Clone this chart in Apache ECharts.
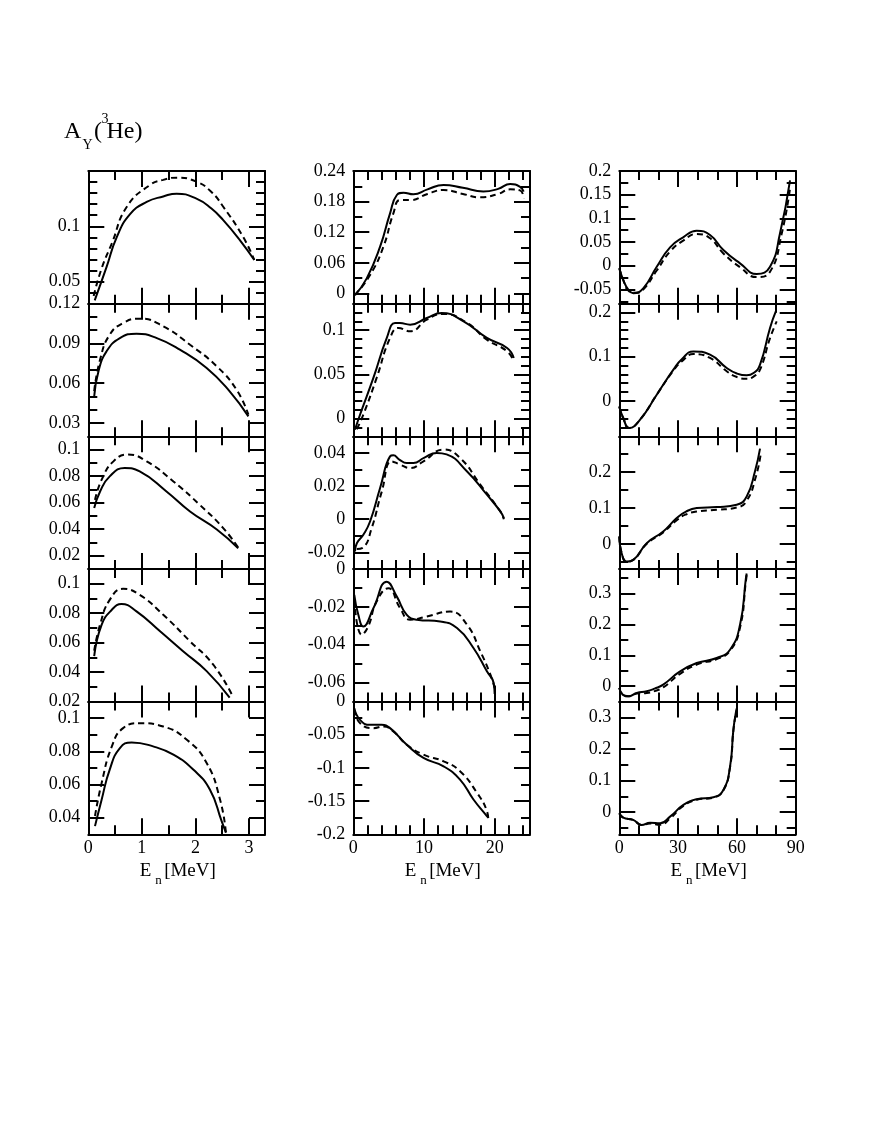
<!DOCTYPE html>
<html>
<head>
<meta charset="utf-8">
<script src="https://cdn.jsdelivr.net/npm/echarts@6/dist/echarts.min.js"></script>
<style>
  html, body { margin: 0; padding: 0; background: #fff; }
  #chart { width: 884px; height: 1144px; }
</style>
</head>
<body>
<div id="chart"></div>
<script>
// x axis (E_n in MeV) per column
const col1Ticks = [0, 1, 2, 3]
const col2Ticks = [0, 10, 20]
const col3Ticks = [0, 30, 60, 90]

// y tick labels per panel (row-col)
const yTicks11 = [0.05, 0.1]
const yTicks12 = [0.03, 0.06, 0.09, 0.12]
const yTicks13 = [0.02, 0.04, 0.06, 0.08, 0.1]
const yTicks14 = [0.02, 0.04, 0.06, 0.08, 0.1]
const yTicks15 = [0.04, 0.06, 0.08, 0.1]
const yTicks21 = [0, 0.06, 0.12, 0.18, 0.24]
const yTicks22 = [0, 0.05, 0.1]
const yTicks23 = [-0.02, 0, 0.02, 0.04]
const yTicks24 = [-0.06, -0.04, -0.02, 0]
const yTicks25 = [-0.2, -0.15, -0.1, -0.05, 0]
const yTicks31 = [-0.05, 0, 0.05, 0.1, 0.15, 0.2]
const yTicks32 = [0, 0.1, 0.2]
const yTicks33 = [0, 0.1, 0.2]
const yTicks34 = [0, 0.1, 0.2, 0.3]
const yTicks35 = [0, 0.1, 0.2, 0.3]

// curves: [E, A_y], solid and dashed
const s11 = [[0.12, 0.033], [0.34, 0.063], [0.53, 0.090], [0.78, 0.111], [1.09, 0.122], [1.4, 0.127], [1.65, 0.1295], [2.02, 0.125], [2.3, 0.116], [2.52, 0.1055], [2.83, 0.0875], [3.1, 0.0695]]
const d11 = [[0.1, 0.037], [0.25, 0.062], [0.44, 0.0846], [0.72, 0.1177], [1.15, 0.1373], [1.4, 0.142], [1.65, 0.144], [2.02, 0.1403], [2.3, 0.131], [2.52, 0.1177], [2.89, 0.0905], [3.1, 0.0695]]
const s12 = [[0.11, 0.050], [0.19, 0.069], [0.34, 0.084], [0.59, 0.094], [0.9, 0.0974], [1.28, 0.094], [1.71, 0.0853], [2.21, 0.0715], [2.64, 0.0539], [2.99, 0.035]]
const d12 = [[0.11, 0.054], [0.22, 0.0778], [0.40, 0.0966], [0.65, 0.1054], [0.96, 0.1087], [1.40, 0.1029], [1.90, 0.089], [2.40, 0.0727], [2.77, 0.055], [2.99, 0.0363]]
const s13 = [[0.11, 0.0559], [0.22, 0.0684], [0.40, 0.0798], [0.68, 0.0861], [0.96, 0.0835], [1.46, 0.0684], [1.90, 0.0533], [2.40, 0.0397], [2.80, 0.0256]]
const d13 = [[0.125, 0.0621], [0.25, 0.0773], [0.47, 0.0911], [0.74, 0.0962], [1.09, 0.0911], [1.59, 0.076], [2.08, 0.0584], [2.52, 0.0408], [2.83, 0.0244]]
const s14 = [[0.11, 0.0508], [0.25, 0.0722], [0.44, 0.0823], [0.62, 0.0862], [0.90, 0.0812], [1.34, 0.0677], [1.77, 0.0542], [2.21, 0.0407], [2.64, 0.0227]]
const d14 = [[0.11, 0.0545], [0.22, 0.0722], [0.40, 0.089], [0.65, 0.0965], [0.96, 0.0924], [1.40, 0.0789], [1.90, 0.0609], [2.33, 0.0452], [2.68, 0.0249]]
const s15 = [[0.125, 0.0349], [0.25, 0.051], [0.40, 0.069], [0.59, 0.082], [0.81, 0.0854], [1.21, 0.083], [1.59, 0.078], [1.96, 0.069], [2.27, 0.057], [2.49, 0.0379], [2.57, 0.031]]
const d15 = [[0.125, 0.041], [0.25, 0.061], [0.44, 0.083], [0.65, 0.094], [0.96, 0.097], [1.40, 0.095], [1.84, 0.087], [2.21, 0.073], [2.46, 0.051], [2.57, 0.031]]

const s21 = [[0.24, -0.003], [1.9, 0.0296], [3.79, 0.0916], [5.2, 0.157], [6.16, 0.193], [7.1, 0.1976], [8.5, 0.1943], [10.5, 0.204], [12.77, 0.2126], [15.5, 0.207], [18.4, 0.2], [20.5, 0.205], [22.2, 0.2145], [23.6, 0.209], [24.1, 0.1995]]
const d21 = [[0.24, -0.003], [2.37, 0.036], [4.26, 0.0916], [5.67, 0.157], [6.62, 0.183], [8.04, 0.183], [10.5, 0.195], [12.77, 0.2027], [15.5, 0.195], [17.97, 0.1884], [20.5, 0.195], [22.2, 0.204], [23.6, 0.202], [24.1, 0.1865]]
const s22 = [[0.24, -0.0125], [0.95, 0.0044], [2.84, 0.046], [4.74, 0.0912], [5.9, 0.108], [6.6, 0.108], [8.04, 0.1062], [10.4, 0.1138], [12.5, 0.1195], [15.6, 0.11], [18.9, 0.0912], [21.76, 0.0799], [22.7, 0.0686]]
const d22 = [[0.5, -0.012], [1.42, 0.0044], [3.3, 0.046], [5.2, 0.0912], [6.4, 0.1025], [8.04, 0.0987], [10.4, 0.1119], [12.77, 0.1183], [16.1, 0.1082], [18.9, 0.0893], [21.76, 0.0761], [22.7, 0.0647]]
const s23 = [[0.24, -0.0195], [0.5, -0.0145], [1.42, -0.0094], [2.37, -0.0014], [3.79, 0.0188], [5.2, 0.0379], [5.67, 0.0385], [6.5, 0.036], [7.57, 0.0339], [8.5, 0.0339], [10, 0.037], [11.8, 0.04], [13.2, 0.0391], [16.1, 0.0288], [18.9, 0.0148], [20.8, 0.0047], [21.3, 0.0007]]
const d23 = [[0.5, -0.018], [1.42, -0.017], [2.6, -0.0054], [4.03, 0.0167], [5.44, 0.0349], [6.62, 0.0329], [8.04, 0.0309], [9.93, 0.0349], [12.77, 0.042], [15.1, 0.037], [17.97, 0.0208], [20.8, 0.0047], [21.3, 0]]
const s24 = [[0.14, -0.0137], [0.71, -0.0242], [1.42, -0.0304], [2.84, -0.0207], [4.74, -0.0067], [6.16, -0.0146], [7.57, -0.0242], [9.0, -0.0268], [12.3, -0.0277], [14.67, -0.0312], [17.0, -0.0417], [18.9, -0.054], [19.86, -0.0602], [20.0, -0.066]]
const d24 = [[0.14, -0.016], [1.19, -0.0347], [2.1, -0.0304], [3.3, -0.0172], [4.96, -0.0102], [6.62, -0.0207], [8.04, -0.0268], [10.4, -0.0251], [13.7, -0.0225], [16.1, -0.0295], [17.97, -0.0435], [19.4, -0.0558], [20.0, -0.063]]
const s25 = [[0.14, -0.0099], [0.95, -0.0275], [2.37, -0.035], [4.0, -0.035], [5.2, -0.04], [7.57, -0.065], [9.93, -0.085], [12.77, -0.0976], [15.1, -0.1176], [17.0, -0.1476], [18.7, -0.17], [19.1, -0.175]]
const d25 = [[0.14, -0.012], [0.95, -0.0325], [2.84, -0.04], [4.3, -0.0375], [5.67, -0.045], [7.57, -0.065], [9.93, -0.08], [12.77, -0.09], [15.1, -0.105], [17.5, -0.1376], [18.9, -0.165], [19.1, -0.178]]

const s31 = [[0, -0.0055], [2, -0.03], [4.5, -0.05], [7.1, -0.058], [12.2, -0.0477], [19.1, -0.002], [25.9, 0.0389], [32.6, 0.06], [39.5, 0.074], [46.3, 0.0649], [53.1, 0.0332], [61.6, 0.0051], [70.1, -0.0175], [76.9, -0.002], [82, 0.0685], [87.1, 0.18]]
const d31 = [[0, -0.0055], [2, -0.03], [4.5, -0.052], [8, -0.057], [12.2, -0.05], [19.1, -0.01], [25.9, 0.03], [32.6, 0.053], [39.5, 0.067], [46.3, 0.058], [53.1, 0.026], [61.6, -0.003], [70.1, -0.024], [76.9, -0.0126], [82.9, 0.0685], [87.1, 0.1634]]
const s32 = [[0, -0.0124], [2, -0.0386], [5.1, -0.0612], [10.6, -0.0424], [19.1, 0.0141], [27.6, 0.0707], [32, 0.095], [37.8, 0.112], [46.3, 0.1046], [54.8, 0.0745], [60, 0.062], [65, 0.0578], [68.5, 0.063], [71.8, 0.082], [76.9, 0.165], [80, 0.204]]
const d32 = [[0, -0.0124], [2, -0.0386], [5.1, -0.0612], [10.6, -0.0424], [19.1, 0.0141], [27.6, 0.0687], [32, 0.09], [37.8, 0.106], [46.3, 0.0972], [54.8, 0.067], [60, 0.054], [65, 0.0503], [68.5, 0.055], [71.8, 0.0707], [76.9, 0.142], [80.3, 0.18]]
const s33 = [[0, 0.0204], [1.2, -0.026], [3.8, -0.0495], [7.1, -0.0448], [14, 0.0019], [22.4, 0.0344], [29.3, 0.0718], [34, 0.09], [39.5, 0.0998], [49.7, 0.1026], [59.9, 0.109], [65, 0.1322], [69.2, 0.2021], [71.8, 0.2656]]
const d33 = [[0, 0.0204], [1.2, -0.026], [3.8, -0.0495], [7.1, -0.0448], [14, 0.0], [22.4, 0.032], [29.3, 0.066], [34, 0.082], [39.5, 0.09], [49.7, 0.095], [59.9, 0.1014], [65, 0.12], [69.7, 0.188], [72.1, 0.2488]]
const s34 = [[0, -0.0057], [1.7, -0.0274], [4.6, -0.0329], [8.9, -0.022], [14, -0.0167], [18, -0.008], [22.4, 0.005], [31, 0.048], [39.5, 0.0751], [49.7, 0.0913], [56.5, 0.1181], [61.6, 0.199], [64.6, 0.35], [65, 0.365]]
const d34 = [[0, -0.0057], [1.7, -0.0274], [4.6, -0.0329], [8.9, -0.024], [14, -0.022], [18, -0.016], [22.4, -0.004], [31, 0.04], [39.5, 0.07], [49.7, 0.088], [56.5, 0.115], [61.6, 0.19], [64.6, 0.34], [65, 0.36]]
const s35 = [[0, -0.0035], [2, -0.0174], [7.1, -0.0247], [11.4, -0.0406], [15.7, -0.0333], [20.8, -0.035], [25.9, -0.0143], [32.7, 0.0228], [39.5, 0.0408], [48, 0.0471], [53.1, 0.0703], [56.5, 0.144], [58.2, 0.2604], [59.4, 0.313], [60, 0.33]]
const d35 = [[0, -0.0035], [2, -0.0174], [7.1, -0.0247], [11.4, -0.0406], [15.7, -0.036], [20.8, -0.04], [25.9, -0.02], [32.7, 0.02], [39.5, 0.039], [48, 0.046], [53.1, 0.069], [56.5, 0.142], [58.2, 0.258], [59.4, 0.31], [60, 0.325]]

const columns = [
  { left: 88.3, width: 176.7, min: 0, max: 3.3, major: col1Ticks, minor: 0.5 },
  { left: 353.3, width: 176.7, min: 0, max: 25, major: col2Ticks, minor: 2 },
  { left: 619.3, width: 176.4, min: 0, max: 90, major: col3Ticks, minor: 10 }
]
// col, row, y range, labels, minor step, curves
const panels = [
  [0, 0, 0.03, 0.15, yTicks11, 0.01, s11, d11],
  [0, 1, 0.02, 0.12, yTicks12, 0.01, s12, d12],
  [0, 2, 0.01, 0.11, yTicks13, 0.01, s13, d13],
  [0, 3, 0.02, 0.11, yTicks14, 0.01, s14, d14],
  [0, 4, 0.03, 0.11, yTicks15, 0.01, s15, d15],
  [1, 0, -0.02, 0.24, yTicks21, 0.03, s21, d21],
  [1, 1, -0.02, 0.13, yTicks22, 0.01, s22, d22],
  [1, 2, -0.03, 0.05, yTicks23, 0.01, s23, d23],
  [1, 3, -0.07, 0, yTicks24, 0.01, s24, d24],
  [1, 4, -0.2, 0, yTicks25, 0.025, s25, d25],
  [2, 0, -0.08, 0.2, yTicks31, 0.025, s31, d31],
  [2, 1, -0.08, 0.22, yTicks32, 0.02, s32, d32],
  [2, 2, -0.07, 0.3, yTicks33, 0.05, s33, d33],
  [2, 3, -0.05, 0.38, yTicks34, 0.05, s34, d34],
  [2, 4, -0.07, 0.35, yTicks35, 0.05, s35, d35]
]

const TOP = 171
const ROW_H = 132.65
const FONT = 'Liberation Serif'

function stepTicks (min, max, step) {
  let out = []
  let k0 = Math.ceil(min / step - 1e-9)
  let k1 = Math.floor(max / step + 1e-9)
  for (let k = k0; k <= k1; k++) out.push(+(k * step).toFixed(6))
  return out
}

function axis (gi, position, min, max, ticks, len, line, labels) {
  return {
    type: 'value',
    gridIndex: gi,
    position: position,
    min: min,
    max: max,
    splitLine: { show: false },
    axisLine: { show: line, onZero: false, lineStyle: { color: '#000', width: 2 } },
    axisTick: { show: true, inside: true, length: len, customValues: ticks, lineStyle: { color: '#000', width: 2 } },
    axisLabel: {
      show: !!labels,
      customValues: labels || ticks,
      margin: (position === 'bottom') ? 5 : 8,
      color: '#000',
      fontFamily: FONT,
      fontSize: 18
    }
  }
}

let grids = []
let xAxes = []
let yAxes = []
let series = []
let graphics = []

panels.forEach((p, gi) => {
  let [ci, ri, ymin, ymax, yLab, yStep, solid, dashed] = p
  let c = columns[ci]
  grids.push({ left: c.left, width: c.width, top: TOP + ri * ROW_H, height: ROW_H, outerBoundsMode: 'none' })
  let xMinor = stepTicks(c.min, c.max, c.minor)
  let yMinor = stepTicks(ymin, ymax, yStep)
  let xi = xAxes.length
  xAxes.push(axis(gi, 'bottom', c.min, c.max, c.major, 16, true, ri === 4 ? c.major : null))
  xAxes.push(axis(gi, 'bottom', c.min, c.max, xMinor, 9, false, null))
  xAxes.push(axis(gi, 'top', c.min, c.max, c.major, 16, true, null))
  xAxes.push(axis(gi, 'top', c.min, c.max, xMinor, 9, false, null))
  let yi = yAxes.length
  yAxes.push(axis(gi, 'left', ymin, ymax, yLab, 16, true, yLab))
  yAxes.push(axis(gi, 'left', ymin, ymax, yMinor, 9, false, null))
  yAxes.push(axis(gi, 'right', ymin, ymax, yLab, 16, true, null))
  yAxes.push(axis(gi, 'right', ymin, ymax, yMinor, 9, false, null))
  series.push({
    type: 'line', xAxisIndex: xi, yAxisIndex: yi, data: solid,
    showSymbol: false, smooth: 0.5,
    lineStyle: { color: '#000', width: 2 }
  })
  series.push({
    type: 'line', xAxisIndex: xi, yAxisIndex: yi, data: dashed,
    showSymbol: false, smooth: 0.5,
    lineStyle: { color: '#000', width: 2, type: [6, 4] }
  })
})

function txt (x, y, text, size) {
  return {
    type: 'text', x: x, y: y,
    style: { text: text, fill: '#000', fontFamily: FONT, fontSize: size, align: 'left', verticalAlign: 'middle' }
  }
}

// A_Y(3He) title
graphics.push(txt(64, 131.5, 'A', 24))
graphics.push(txt(82.5, 145.5, 'Y', 14))
graphics.push(txt(94, 131.5, '(', 24))
graphics.push(txt(101.5, 119, '3', 14))
graphics.push(txt(106.5, 131.5, 'He)', 24))

// E_n [MeV] under each column
columns.forEach((c) => {
  let mid = c.left + c.width / 2
  graphics.push(txt(mid - 37, 871.5, 'E', 19))
  graphics.push(txt(mid - 21.5, 880.5, 'n', 13))
  graphics.push(txt(mid - 12.5, 871.5, '[MeV]', 19))
})

let chart = echarts.init(document.getElementById('chart'), null, { renderer: 'canvas' })
chart.setOption({
  backgroundColor: '#fff',
  animation: false,
  grid: grids,
  xAxis: xAxes,
  yAxis: yAxes,
  series: series,
  graphic: graphics
})
</script>
</body>
</html>
